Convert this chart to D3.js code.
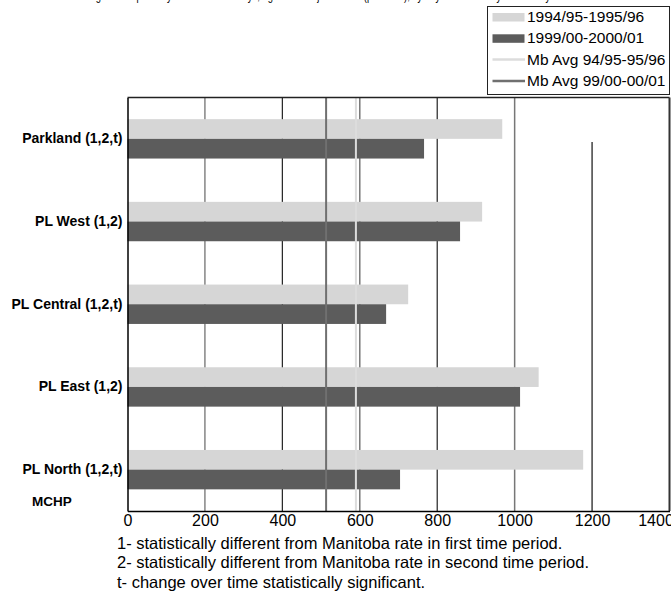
<!DOCTYPE html>
<html><head><meta charset="utf-8">
<script src="https://cdn.jsdelivr.net/npm/d3@7"></script>
<style>body{margin:0;background:#fff;} svg{display:block;font-family:"Liberation Sans",Arial,sans-serif;}</style>
</head><body>
<svg id="c" width="671" height="592"></svg>
<script>
const categories = ["Parkland (1,2,t)", "PL West (1,2)", "PL Central (1,2,t)", "PL East (1,2)", "PL North (1,2,t)"];
const series = ["1994/95-1995/96", "1999/00-2000/01"];
const values1 = [968, 916, 725, 1062, 1177];
const values2 = [766, 859, 668, 1014, 704];
const mbAvgLabels = ["Mb Avg 94/95-95/96", "Mb Avg 99/00-00/01"];
const mbAvg = [590, 513];
const xTicks = [0, 200, 400, 600, 800, 1000, 1200, 1400];
const footnotes = ["1- statistically different from Manitoba rate in first time period.",
  "2- statistically different from Manitoba rate in second time period.",
  "t- change over time statistically significant."];

const barColors = ["#d6d6d6", "#5c5c5c"];
const avgColors = ["#dcdcdc", "#707070"];
const svg = d3.select("#c");
const L = 127.5, R = 669.5, T = 97.5, B = 511;
const x = d3.scaleLinear().domain([0, 1400]).range([L, R]);
const y = d3.scaleBand().domain(categories).range([T, B]);
const ys = d3.scaleBand().domain(series).range([0, y.bandwidth()]).paddingOuter(1.1);

// cut-off title at very top (only descenders visible, as in the reference)
svg.append("text").attr("x", 88).attr("y", -0.5).attr("font-size", 12).attr("fill", "#000")
  .attr("textLength", 467).attr("lengthAdjust", "spacingAndGlyphs")
  .text("Figure: Hospital days used in short stays, age & sex adjusted rate (per 1000), by days used for stays of 1-3 days");

// gridlines
const gridCol = {200:"#666",400:"#222",600:"#777",800:"#222",1000:"#777",1200:"#111"};
svg.append("g").selectAll("line").data(xTicks.filter(t => t > 0 && t < 1400)).join("line")
  .attr("x1", d => x(d)).attr("x2", d => x(d))
  .attr("y1", d => d === 1200 ? 142 : T).attr("y2", B)
  .attr("stroke", d => gridCol[d]).attr("stroke-width", d => (d === 1000 || d === 600) ? 1.5 : 1.2);

// bars
const data = categories.map((c, i) => ({c, v: [values1[i], values2[i]]}));
const g = svg.append("g");
data.forEach(d => {
  series.forEach((s, j) => {
    g.append("rect").attr("x", x(0)).attr("y", y(d.c) + ys(s))
      .attr("width", x(d.v[j]) - x(0)).attr("height", ys.bandwidth())
      .attr("fill", barColors[j]);
  });
});

// Mb avg lines
svg.append("g").selectAll("line").data(mbAvg).join("line")
  .attr("x1", d => x(d)).attr("x2", d => x(d)).attr("y1", T).attr("y2", B)
  .attr("stroke", (d, i) => avgColors[i]).attr("stroke-width", 2);

// frame
svg.append("line").attr("x1", L).attr("x2", R).attr("y1", T).attr("y2", T).attr("stroke", "#222").attr("stroke-width", 1.5);
svg.append("line").attr("x1", R).attr("x2", R).attr("y1", T).attr("y2", B).attr("stroke", "#333").attr("stroke-width", 2);

// axes
const xAxis = d3.axisBottom(x).tickValues(xTicks).tickFormat(d3.format("d")).tickSize(0).tickPadding(4);
const xg = svg.append("g").attr("transform", `translate(0,${B})`).call(xAxis);
xg.select(".domain").attr("stroke", "#000").attr("stroke-width", 1.5);
xg.selectAll("text").attr("font-size", 16).attr("fill", "#000").attr("font-family", "Liberation Sans, Arial, sans-serif");
xg.selectAll(".tick").filter(d => d === 1400).select("text").attr("dx", -14);

const yAxis = d3.axisLeft(y).tickSize(0).tickPadding(5);
const yg = svg.append("g").attr("transform", `translate(${L},0)`).call(yAxis);
yg.select(".domain").attr("stroke", "#000").attr("stroke-width", 1.5);
yg.selectAll("text").attr("font-size", 14).attr("font-weight", "bold").attr("fill", "#000")
  .attr("font-family", "Liberation Sans, Arial, sans-serif");

svg.append("text").attr("x", 32).attr("y", 506).attr("font-size", 13.5).attr("font-weight", "bold").text("MCHP");

// footnotes
svg.append("g").selectAll("text").data(footnotes).join("text")
  .attr("x", 117).attr("y", (d, i) => 549 + i * 19.3).attr("font-size", 16.5).attr("fill", "#000").text(d => d);

// legend
const lg = svg.append("g");
lg.append("rect").attr("x", 487.5).attr("y", 6.5).attr("width", 182).attr("height", 88)
  .attr("fill", "#fff").attr("stroke", "#222").attr("stroke-width", 1);
const items = [
  {t: series[0], type: "rect", c: barColors[0]},
  {t: series[1], type: "rect", c: barColors[1]},
  {t: mbAvgLabels[0], type: "line", c: avgColors[0]},
  {t: mbAvgLabels[1], type: "line", c: avgColors[1]}
];
items.forEach((it, i) => {
  const cy = 17 + i * 21.3;
  if (it.type === "rect") lg.append("rect").attr("x", 492.5).attr("y", cy - 4).attr("width", 32).attr("height", 8.5).attr("fill", it.c);
  else lg.append("line").attr("x1", 492.5).attr("x2", 525).attr("y1", cy).attr("y2", cy).attr("stroke", it.c).attr("stroke-width", 2.5);
  lg.append("text").attr("x", 527).attr("y", cy + 5).attr("font-size", 15.5).attr("fill", "#000").text(it.t);
});
</script>
</body></html>
